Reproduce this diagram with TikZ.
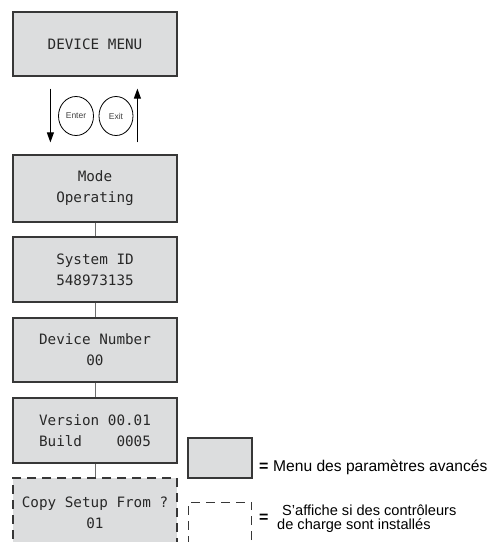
\documentclass[tikz,border=0pt]{standalone}
\usepackage{fontspec}
\setmainfont{Liberation Sans}
\newfontfamily\lcdfont{DejaVu Sans Mono}
\usetikzlibrary{arrows.meta}
\definecolor{panelfill}{RGB}{220,221,222}
\definecolor{panelline}{RGB}{55,55,55}
\definecolor{lcdtext}{RGB}{40,40,40}
\definecolor{linkgray}{RGB}{110,110,110}
\tikzset{
  panel/.style={draw=panelline, line width=1.2pt, fill=panelfill,
    minimum width=164pt, inner sep=0pt, align=center, text=lcdtext,
    font=\lcdfont\fontsize{14.3}{21}\selectfont},
  optional/.style={dash pattern=on 9pt off 6pt},
  link/.style={draw=linkgray, line width=0.8pt},
  navarrow/.style={line width=1pt, -{Triangle[length=10pt,width=7pt]}},
  keyring/.style={line width=0.8pt},
  keylabel/.style={inner sep=0pt, font=\fontsize{8.5}{9}\selectfont, text=black!75},
  legendtext/.style={inner sep=0pt}
}
\begin{document}
\begin{tikzpicture}[x=1pt,y=-1pt]
\useasboundingbox (0,0) rectangle (488,542);

% menu panels
\node[panel, minimum height=64pt] (menu) at (95,44) {DEVICE MENU};
\node[panel, minimum height=67pt] (mode) at (95,188.5) {Mode\\Operating};
\node[panel, minimum height=65pt] (sysid) at (95,269.5) {System ID\\548973135};
\node[panel, minimum height=64pt] (devnum) at (95,350) {Device Number\\00};
\node[panel, minimum height=65pt] (version) at (95,430.5) {Version 00.01\\Build\hphantom{0000}0005};
\node[panel, optional, minimum height=70pt] (copy) at (95,513) {Copy Setup From ?\\01\vphantom{\rule{0pt}{8pt}}};

% Enter / Exit keys between the first two panels
\draw[keyring] (76,116) ellipse [x radius=17.5, y radius=19.5];
\draw[keyring] (116,116) ellipse [x radius=17, y radius=19.5];
\node[keylabel] (enter) at (76,116) {Enter};
\node[keylabel] (exit) at (116,116) {Exit};

\draw[navarrow] ([xshift=38pt,yshift=-12pt]menu.south west) -- ([xshift=38pt,yshift=12pt]mode.north west);
\draw[navarrow] ([xshift=125pt,yshift=12pt]mode.north west) -- ([xshift=125pt,yshift=-12pt]menu.south west);

% links between panels
\draw[link] (mode.south) -- (sysid.north);
\draw[link] (sysid.south) -- (devnum.north);
\draw[link] (devnum.south) -- (version.north);
\draw[link] (version.south) -- (copy.north);

% legend
\node[draw=panelline, line width=1.2pt, fill=panelfill, minimum width=64pt,
  minimum height=40pt, inner sep=0pt] (keyadv) at (220,458) {};
\node[draw=panelline, line width=1pt, optional, minimum width=63pt,
  minimum height=50pt, inner sep=0pt] (keyopt) at (220,527) {};
\node[legendtext, font=\fontsize{16}{16}\selectfont\bfseries, anchor=base west] (eqadv) at (259,471) {=};
\node[legendtext, font=\fontsize{15.6}{16}\selectfont, anchor=base west] (txtadv) at (273,471) {Menu des paramètres avancés};
\node[legendtext, font=\fontsize{16}{16}\selectfont\bfseries, anchor=base west] (eqopt) at (259,522) {=};
\node[legendtext, font=\fontsize{14.6}{15}\selectfont, anchor=base west] (txtopt1) at (282,515) {S'affiche si des contrôleurs};
\node[legendtext, font=\fontsize{14.6}{15}\selectfont, anchor=base west] (txtopt2) at (277,529.5) {de charge sont installés};
\end{tikzpicture}
\end{document}
